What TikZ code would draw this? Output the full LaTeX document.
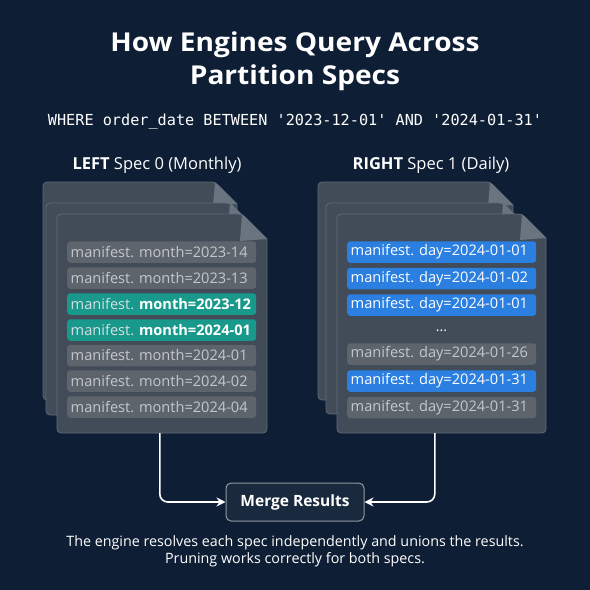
\documentclass[tikz,border=0pt]{standalone}
\usepackage{fontspec}
\setmainfont{Open Sans}
\setmonofont{DejaVu Sans Mono}
\newfontfamily\titlefont[FakeStretch=1.08]{Open Sans}
\usetikzlibrary{arrows.meta,calc}
\definecolor{bg}{HTML}{0E1F35}
\definecolor{pagefill}{HTML}{414C58}
\definecolor{pageline}{HTML}{5F6A76}
\definecolor{foldc}{HTML}{6A7480}
\definecolor{grayrow}{HTML}{5D646C}
\definecolor{graytext}{HTML}{C3C8CE}
\definecolor{tealrow}{HTML}{18998B}
\definecolor{bluerow}{HTML}{2B7FE0}
\definecolor{mergefill}{HTML}{1A2A3E}
\definecolor{mergeline}{HTML}{8F99A3}
\tikzset{
  rowbox/.style={minimum width=189pt,minimum height=21.5pt,inner sep=0pt,rounded corners=3pt,anchor=west,text width=182pt,align=left,font=\fontsize{14.6}{16}\selectfont},
  grayr/.style={rowbox,fill=grayrow,text=graytext},
  tealr/.style={rowbox,fill=tealrow,text=white},
  bluer/.style={rowbox,fill=bluerow,text=white},
  pageshape/.style={fill=pagefill,draw=pageline,line width=0.8pt},
  conn/.style={draw=white,line width=1.6pt,rounded corners=8pt,-{Stealth[length=9pt,width=9pt]}},
}
\newcommand{\pagepoly}[5]{% left top right bottom cornerx
  \path[pageshape,rounded corners=4pt] (#1,#2) -- (#5,#2) [sharp corners]-- (#3,#2+#3-#5) [rounded corners=4pt]-- (#3,#4) -- (#1,#4) -- cycle;
  \fill[foldc] (#5,#2) -- (#3,#2+#3-#5) -- (#5-2,#2+#3-#5+2) -- cycle;
}
\frenchspacing
\begin{document}
\begin{tikzpicture}[x=1pt,y=-1pt]
\useasboundingbox (0,0) rectangle (590,590);
\fill[bg] (0,0) rectangle (590,590);
% title
\node[font=\titlefont\fontsize{26}{33}\selectfont\bfseries,text=white,align=center] (title) at (295,61) {How Engines Query Across\\Partition Specs};
\node[font=\ttfamily\fontsize{15.2}{18}\selectfont,text=white] (where) at (295,122) {WHERE order\_date BETWEEN '2023-12-01' AND '2024-01-31'};
\node[font=\fontsize{16.5}{20}\selectfont,text=white] (lhead) at (157,165) {\textbf{LEFT} Spec 0 (Monthly)};
\node[font=\fontsize{16.5}{20}\selectfont,text=white] (rhead) at (431,165) {\textbf{RIGHT} Spec 1 (Daily)};
% left stack
\pagepoly{43}{182}{237}{400}{215}
\pagepoly{46}{203}{252}{415}{230}
\pagepoly{57}{214}{267}{433}{242}
\node[minimum width=210pt,minimum height=219pt,inner sep=0pt] (lpage) at (162,323.5) {};
% right stack
\pagepoly{318}{182}{513}{400}{490}
\pagepoly{326}{203}{527}{414}{503}
\pagepoly{337}{214}{546}{433}{522}
\node[minimum width=209pt,minimum height=219pt,inner sep=0pt] (rpage) at (441.5,323.5) {};
% left rows
\node[grayr] (l1) at (67,252) {manifest. month=2023-14};
\node[grayr] (l2) at (67,278) {manifest. month=2023-13};
\node[tealr] (l3) at (67,304) {\textcolor{graytext!60!white}{manifest.} \textbf{month=2023-12}};
\node[tealr] (l4) at (67,330) {\textcolor{graytext!60!white}{manifest.} \textbf{month=2024-01}};
\node[grayr] (l5) at (67,355.5) {manifest. month=2024-01};
\node[grayr] (l6) at (67,381) {manifest. month=2024-02};
\node[grayr] (l7) at (67,407) {manifest. month=2024-04};
% right rows
\node[bluer] (r1) at (347,252) {manifest. day=2024-01-01};
\node[bluer] (r2) at (347,278.5) {manifest. day=2024-01-02};
\node[bluer] (r3) at (347,305) {manifest. day=2024-01-01};
\node[text=white,font=\fontsize{14}{16}\selectfont] (rdots) at (441.5,331) {...};
\node[grayr] (r4) at (347,354) {manifest. day=2024-01-26};
\node[bluer] (r5) at (347,381) {manifest. day=2024-01-31};
\node[grayr] (r6) at (347,407.5) {manifest. day=2024-01-31};
% merge
\node[draw=mergeline,fill=mergefill,line width=1pt,rounded corners=5pt,minimum width=138pt,minimum height=38pt,text=white,font=\fontsize{15.5}{19}\selectfont\bfseries] (merge) at (295,502) {Merge Results};
\coordinate (lout) at ($(lpage.south west)+(103,0)$);
\coordinate (rout) at ($(rpage.south west)+(98,0)$);
\draw[conn] (lout) |- (merge.west);
\draw[conn] (rout) |- (merge.east);
% footer
\node[font=\fontsize{14.3}{17}\selectfont,text=white,align=center] (foot) at (295,551.5) {The engine resolves each spec independently and unions the results.\\Pruning works correctly for both specs.};
\end{tikzpicture}
\end{document}
